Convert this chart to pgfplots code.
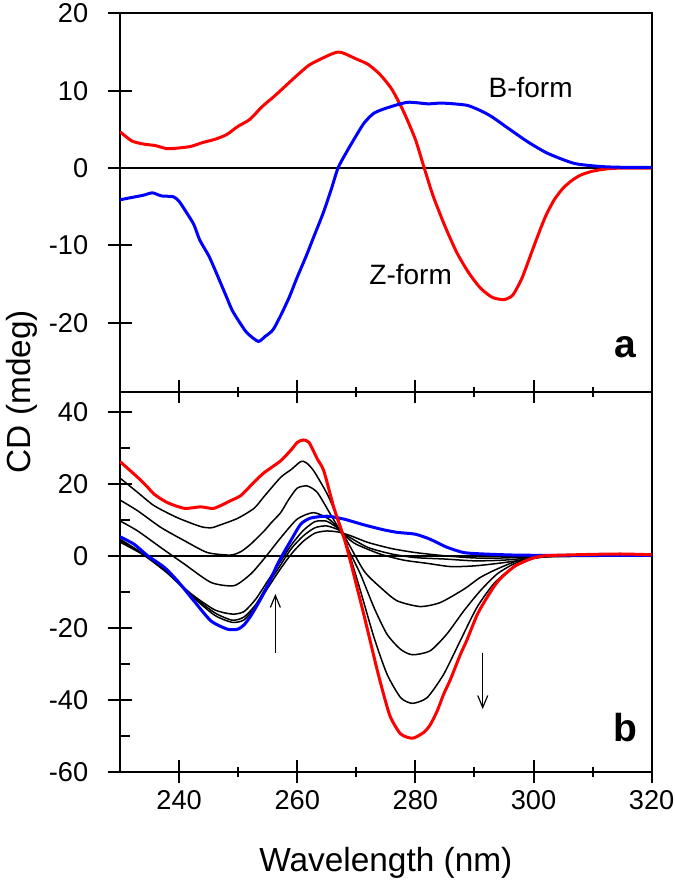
\documentclass[border=0pt]{standalone}
\usepackage{fontspec}
\setmainfont{Liberation Sans}
\usepackage{pgfplots}
\pgfplotsset{compat=1.18}
\usetikzlibrary{arrows.meta}

\pgfplotsset{
  cdax/.style={
    scale only axis, width=265.85pt,
    xmin=230, xmax=320,
    axis line style={line width=1pt},
    every tick/.style={black, line width=1pt},
    major tick length=11.7pt,
    minor tick length=5pt,
    tick align=center,
    /pgf/number format/assume math mode=true,
    ticklabel style={font=\fontsize{13.6}{13.6}\selectfont},
    yticklabel style={xshift=-6.5pt},
    ytick pos=left,
    xtick pos=bottom,
    xtick={240,260,280,300,320},
    minor x tick num=1,
  },
  redc/.style={color=red, line width=1.5pt, line join=round, smooth, tension=0.4},
  bluec/.style={color=blue, line width=1.5pt, line join=round, smooth, tension=0.4},
  blackc/.style={color=black, line width=0.75pt, line join=round, smooth, tension=0.4},
}

\begin{document}
\begin{tikzpicture}
\useasboundingbox (0,0) rectangle (337.5pt,440pt);

% ---------------- panel a ----------------
\begin{axis}[cdax,
  at={(60pt,244.15pt)}, anchor=south west,
  height=189.2pt,
  ymin=-28.9, ymax=20,
  ytick={-20,-10,0,10,20},
  xticklabels={},
]
\addplot[black, line width=1pt] coordinates {(230,0) (320,0)};
% Z-form (red)
\addplot[redc] coordinates {
(230,4.7) (232,3.5) (234,3.1) (236,2.9) (238,2.5) (240,2.6) (242,2.8) (244,3.3)
(246,3.7) (248,4.3) (250,5.4) (252,6.3) (254,7.9) (256,9.2) (258,10.6) (260,12.0)
(262,13.3) (264,14.1) (266,14.8) (267,15.0) (268,14.8) (270,14.1) (272,13.4)
(274,12.1) (276,10.2) (278,7.3) (280,3.7) (281.5,0) (283,-3.6) (285,-7.5)
(287,-10.9) (289,-13.5) (291,-15.5) (293,-16.7) (295,-17.0) (296.5,-16.4)
(298,-14.3) (299,-12.3) (300.5,-9.2) (302,-6.3) (303.5,-4.1) (305,-2.6)
(306.5,-1.6) (308,-0.9) (310,-0.4) (312.5,-0.1) (315,0) (320,0)
};
% B-form (blue)
\addplot[bluec] coordinates {
(230,-4.1) (232,-3.8) (234,-3.5) (235.5,-3.2) (237,-3.6) (239,-3.7) (240,-4.3)
(241.3,-5.8) (242.5,-7.3) (243.5,-9.3) (245,-11.3) (246,-13) (247,-14.8)
(248,-16.6) (249,-18.4) (250.3,-20.0) (251.5,-21.3) (253.4,-22.4) (254.5,-21.8)
(255.9,-20.9) (257.3,-18.9) (258.7,-16.6) (260,-14.1) (261.5,-11.4) (263,-8.5)
(264.4,-5.8) (265.7,-2.9) (266.9,0) (268.3,2) (269.6,3.7) (271.3,5.8) (273,7.1)
(275.3,7.8) (278.7,8.5) (282.1,8.3) (284.3,8.4) (286.5,8.3) (288.8,8.1)
(290.8,7.5) (292.8,6.7) (295.6,5.2) (299,3.4) (302.4,1.9) (306.9,0.6)
(311.4,0.2) (315,0.1) (320,0.1)
};
\node[font=\fontsize{14}{14}\selectfont] at (axis cs:299.5,10.4) {B-form};
\node[font=\fontsize{14}{14}\selectfont] at (axis cs:279.2,-13.8) {Z-form};
\node[font=\bfseries\fontsize{19.5}{19.5}\selectfont] at (axis cs:315.5,-23.1) {a};
\end{axis}

% ---------------- panel b ----------------
\begin{axis}[cdax,
  at={(60pt,54.15pt)}, anchor=south west,
  height=190pt,
  ymin=-60, ymax=45.6,
  ytick={-60,-40,-20,0,20,40},
  minor y tick num=1,
  minor y tick style={xshift=2.5pt},
]
\addplot[black, line width=1pt] coordinates {(230,0) (320,0)};
% black 1
\addplot[blackc] coordinates {
(230,21.6) (233,17.6) (235.8,13.9) (239.7,10.6) (243.7,8.1) (245.5,7.8) (247,8.6)
(249.9,10.4) (252.7,13.2) (254.4,16.5) (257.2,21.8) (259,24) (260.6,26.2)
(261.5,25.9) (262.8,23.6) (265.1,17.1) (266.8,10.6) (268.2,4.2) (269.3,-2)
(270.7,-9.7) (273,-22.7) (275.2,-32.9) (277.5,-39.4) (279.5,-41.0) (282,-39.4)
(284.8,-32.9) (287.6,-23.6) (290.4,-14.4) (293.2,-7.9) (296.1,-3.7) (298.9,-1.4)
(301,-0.3) (305,0) (320,0)
};
% black 2
\addplot[blackc] coordinates {
(230,15.5) (233,12.5) (236.9,7.9) (240.9,4.2) (244.8,0.9) (248.7,0.2) (250.5,1.2)
(252.1,3.2) (254.4,6.9) (255.5,9) (257.2,12) (258.5,15.5) (260,18.8) (261.7,19.4)
(263.4,17.6) (265.6,11.6) (267.9,5.1) (268.5,2.3) (270.7,-5.1) (273,-14.4)
(275.2,-21.8) (277.5,-26) (279.5,-27.5) (282.5,-26.4) (285.3,-21.8) (288.2,-15.3)
(291,-9.7) (293.8,-5.1) (296.6,-2.3) (299.5,-0.6) (303,0) (320,0)
};
% black 3
\addplot[blackc] coordinates {
(230,9.7) (233,6.9) (236.9,2.3) (240.9,-2.3) (245.4,-7.4) (249.3,-8.3) (252.1,-5.1)
(254.4,-0.8) (257.2,5) (260,10.2) (262.8,12.0) (265.6,9.9) (267.9,5.6)
(271.3,-4.2) (274.1,-8.8) (276.9,-12.5) (280.8,-14.1) (284.2,-13.0) (288.2,-9.3)
(291,-6.0) (293.8,-3.7) (297.2,-1.4) (300,-0.5) (305,0) (320,0)
};
% black 4
\addplot[blackc] coordinates {
(230,4.6) (234,0.5) (238,-4.5) (242,-10.5) (246,-15) (249,-16.2) (251,-15.5)
(253,-12) (255,-7) (257,-2) (259,3) (261,7) (263,9.5) (265,9.6) (267,7.5)
(268.5,5) (270,3.2) (274,0.5) (278,-1.2) (282,-2.1) (286,-3.0) (290,-2.8)
(294,-2.1) (298,-1.2) (302,-0.3) (306,0) (320,0)
};
% black 5
\addplot[blackc] coordinates {
(230,4.2) (234,0.3) (238,-4.6) (242,-10.8) (246,-15.8) (249,-17.9) (251,-17)
(253,-13.5) (255,-8) (257,-3) (259,2) (261,5.5) (263,7.8) (265,8.3) (267,7.2)
(268.5,5.5) (272,2.3) (276,0.5) (280,-0.5) (285,-0.9) (290,-1.4) (295,-1.2)
(300,-0.5) (305,-0.1) (320,0)
};
% black 6
\addplot[blackc] coordinates {
(230,3.8) (234,0.2) (238,-4.8) (242,-11) (246,-16.5) (249,-18.5) (251,-17.8)
(253,-14) (255,-9) (257,-4) (259,0.5) (261,4) (263,6.3) (265,6.9) (267,6.6)
(269,5.6) (272,3.7) (276,2) (280,0.9) (285,0) (290,-0.6) (295,-0.6) (300,-0.3)
(320,0)
};
% blue
\addplot[bluec] coordinates {
(230,5.3) (232.4,3.2) (234.7,0) (237.5,-3.2) (239.7,-6.9) (242.5,-12.5)
(245.4,-18.1) (248.2,-20.4) (249.9,-20.4) (251,-19.2) (252.1,-16.8) (253.3,-13.5)
(254.4,-10.2) (255.5,-6.5) (256.6,-2.5) (257.7,0.8) (258.9,4.2) (260.6,8.8)
(262.3,10.5) (265.1,11.0) (267.9,10.2) (271.3,8.6) (274.7,7.2) (277,6.5) (280,6.0)
(282.5,4.6) (285.3,2.4) (288.2,0.9) (291.6,0.5) (297,0.2) (305,0.1) (320,0.1)
};
% red
\addplot[redc] coordinates {
(230,26.2) (231.5,24) (233,21.8) (234.5,19.4) (235.8,17.1) (238,14.8) (240.9,13.2)
(243.7,13.6) (245.9,13.2) (248.7,15.3) (250.5,16.8) (252.7,20.5) (254.4,23.1)
(257.2,26.4) (259,29.5) (260,31.5) (261,32.2) (262,31.5) (263.4,26.9) (264.5,23.6)
(266.2,13.4) (268,4.5) (269,-1.5) (270,-8) (271.3,-16.5) (272.4,-24) (273.5,-31.5)
(274.7,-39) (275.8,-44.9) (277.5,-49.5) (279.5,-50.7) (281.4,-49.1) (282.5,-47)
(283.7,-43.1) (284.8,-38.4) (285.9,-34.5) (287.6,-27.5) (288.7,-23.5) (290.4,-16.6)
(291.6,-13) (293.2,-8.8) (294.4,-6.3) (296.1,-3.8) (297.2,-2.5) (299.4,-0.9)
(301,-0.2) (303,0.1) (310,0.4) (315,0.5) (320,0.3)
};
\draw[line width=0.6pt, -{Straight Barb[length=6pt,width=5pt]}] (axis cs:256.3,-26.9) -- (axis cs:256.3,-10.6);
\draw[line width=0.6pt, -{Straight Barb[length=6pt,width=5pt]}] (axis cs:291.4,-26.9) -- (axis cs:291.4,-42.6);
\node[font=\bfseries\fontsize{19.5}{19.5}\selectfont] at (axis cs:315.5,-47.7) {b};
\end{axis}

\node[rotate=90, font=\fontsize{16.7}{16.7}\selectfont] at (11pt,244.15pt) {CD (mdeg)};
\node[anchor=base, font=\fontsize{16.7}{16.7}\selectfont] at (192.9pt,4.15pt) {Wavelength (nm)};
\end{tikzpicture}
\end{document}
